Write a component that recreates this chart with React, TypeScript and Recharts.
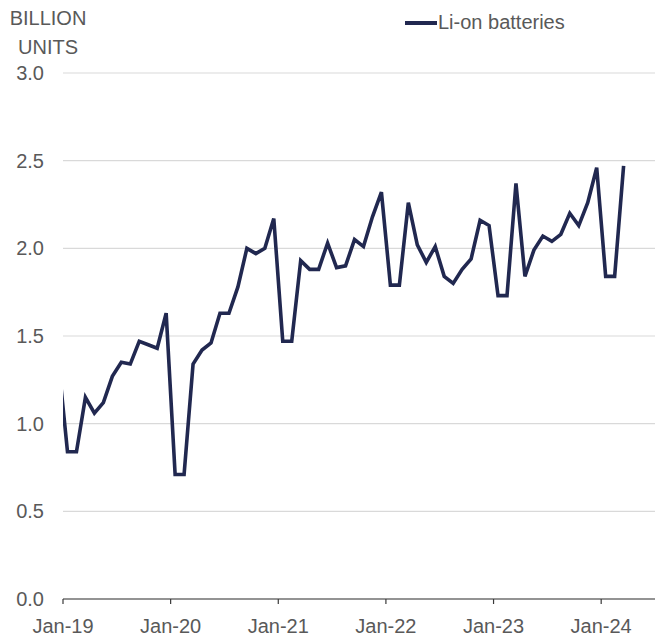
import React from 'react';
import { LineChart, Line, XAxis, YAxis, CartesianGrid, Legend } from 'recharts';

// Monthly output, Dec-18 .. Mar-24 (billion units); Jan & Feb reported as one averaged figure
const liOnBatteries = [
  1.35,
  0.84, 0.84, 1.15, 1.06, 1.12, 1.27, 1.35, 1.34, 1.47, 1.45, 1.43, 1.63,
  0.71, 0.71, 1.34, 1.42, 1.46, 1.63, 1.63, 1.78, 2.0, 1.97, 2.0, 2.17,
  1.47, 1.47, 1.93, 1.88, 1.88, 2.03, 1.89, 1.9, 2.05, 2.01, 2.18, 2.32,
  1.79, 1.79, 2.26, 2.02, 1.92, 2.01, 1.84, 1.8, 1.88, 1.94, 2.16, 2.13,
  1.73, 1.73, 2.37, 1.84, 1.99, 2.07, 2.04, 2.08, 2.2, 2.13, 2.26, 2.46,
  1.84, 1.84, 2.47,
];
const xTickLabels = ['Jan-19', 'Jan-20', 'Jan-21', 'Jan-22', 'Jan-23', 'Jan-24'];
const yTicks = [0, 0.5, 1, 1.5, 2, 2.5, 3];

const FONT = '"Liberation Sans", Arial, sans-serif';
const NAVY = '#212850';
const GREY_TEXT = '#595959';

// months counted from Jan-19 (0); points sit mid-month, first one is Dec-18
const chartData = liOnBatteries.map((v, i) => ({
  month: i - 1 + 0.5,
  value: v,
}));

const renderLegend = () => (
  <div style={{ display: 'flex', alignItems: 'center', fontFamily: FONT, fontSize: 20, color: GREY_TEXT, height: 25 }}>
    <span style={{ display: 'inline-block', width: 32, height: 4, background: NAVY }} />
    <span style={{ marginLeft: 1 }}>Li-on batteries</span>
  </div>
);

export default function App() {
  return (
    <div style={{ position: 'absolute', left: 0, top: 0, width: 665, height: 641, background: '#fff' }}>
      <div
        style={{
          position: 'absolute',
          left: 0,
          top: 4,
          width: 96,
          textAlign: 'center',
          fontFamily: FONT,
          fontSize: 20,
          lineHeight: '29px',
          color: GREY_TEXT,
        }}
      >
        BILLION
        <br />
        UNITS
      </div>
      <LineChart
        width={665}
        height={641}
        data={chartData}
        margin={{ top: 48, right: 10, bottom: 0, left: 0 }}
      >
        <CartesianGrid vertical={false} stroke="#d9d9d9" strokeWidth={1.2} />
        <XAxis
          dataKey="month"
          type="number"
          domain={[0, 66]}
          allowDataOverflow
          ticks={[0, 12, 24, 36, 48, 60]}
          tickFormatter={(v: number) => xTickLabels[v / 12]}
          height={42}
          tickSize={5}
          tickMargin={15}
          axisLine={{ stroke: '#3a3a3a', strokeWidth: 1.2 }}
          tickLine={{ stroke: '#3a3a3a', strokeWidth: 1.2 }}
          tick={{ fontFamily: FONT, fontSize: 20, fill: GREY_TEXT }}
        />
        <YAxis
          type="number"
          domain={[0, 3]}
          ticks={yTicks}
          allowDataOverflow
          width={63}
          tickSize={0}
          tickMargin={19}
          axisLine={false}
          tickLine={false}
          tickFormatter={(v: number) => v.toFixed(1)}
          tick={{ fontFamily: FONT, fontSize: 20, fill: GREY_TEXT }}
        />
        <Legend
          verticalAlign="top"
          content={renderLegend}
          wrapperStyle={{ position: 'absolute', top: 10, left: 405, width: 'auto' }}
        />
        <Line
          type="linear"
          dataKey="value"
          name="Li-on batteries"
          stroke={NAVY}
          strokeWidth={3.6}
          strokeLinejoin="miter"
          dot={false}
          activeDot={false}
          isAnimationActive={false}
        />
      </LineChart>
    </div>
  );
}
